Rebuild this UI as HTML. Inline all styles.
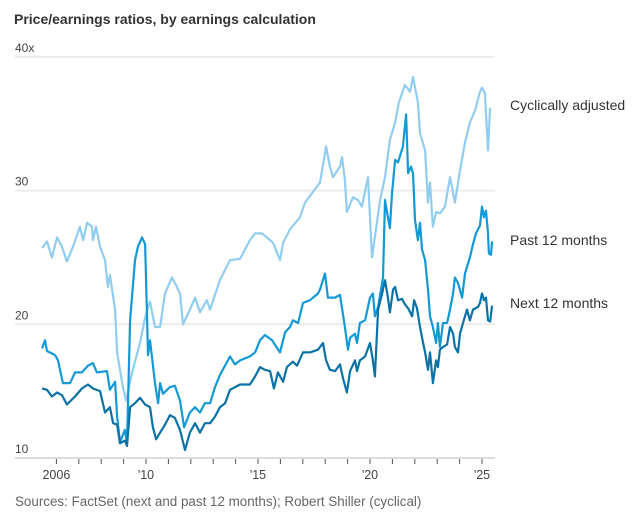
<!DOCTYPE html>
<html><head><meta charset="utf-8"><style>
body{margin:0;background:#fff;font-family:"Liberation Sans",sans-serif;}
svg text{font-family:"Liberation Sans",sans-serif;}
</style></head><body>
<svg id="chart" width="643" height="518">
<text x="14" y="24" font-size="14" font-weight="bold" fill="#333">Price/earnings ratios, by earnings calculation</text>
<g id="grid"></g><g id="xaxis"></g><g id="lines"></g>
<text x="15" y="506" font-size="13.4" fill="#666">Sources: FactSet (next and past 12 months); Robert Shiller (cyclical)</text>
</svg>
<script>
const yTicks=[10,20,30,40];
const xTicks=[2006,2007,2008,2009,2010,2011,2012,2013,2014,2015,2016,2017,2018,2019,2020,2021,2022,2023,2024,2025];
const xLabels={2006:"2006",2010:"'10",2015:"'15",2020:"'20",2025:"'25"};
const capeDates=[2005.36,2005.58,2005.80,2006.03,2006.25,2006.47,2006.74,2007.05,2007.19,2007.37,2007.59,2007.63,2007.77,2007.95,2008.17,2008.30,2008.39,2008.62,2008.71,2008.97,2009.11,2009.38,2009.73,2009.96,2010.18,2010.40,2010.63,2010.85,2011.16,2011.29,2011.52,2011.65,2011.96,2012.19,2012.41,2012.72,2012.86,2013.30,2013.75,2014.20,2014.64,2014.87,2015.18,2015.67,2015.98,2016.12,2016.43,2016.87,2017.10,2017.54,2017.77,2018.04,2018.21,2018.35,2018.66,2018.75,2018.88,2018.97,2019.24,2019.46,2019.64,2019.91,2020.09,2020.45,2020.67,2020.89,2021.12,2021.29,2021.56,2021.79,2021.92,2022.14,2022.23,2022.46,2022.59,2022.68,2022.81,2022.95,2023.12,2023.35,2023.57,2023.79,2024.02,2024.24,2024.46,2024.69,2024.91,2025.00,2025.13,2025.27,2025.36];
const capeValues=[25.7,26.2,25.0,26.5,25.8,24.7,25.8,27.3,26.3,27.6,27.3,26.3,27.3,25.8,24.8,22.8,23.7,21.1,17.9,15.3,14.3,16.4,18.6,20.5,21.7,19.8,19.8,22.3,23.5,23.1,22.3,20.0,21.1,22.0,20.9,21.8,21.1,23.3,24.8,24.9,26.3,26.8,26.8,26.1,24.8,26.1,27.1,28.0,29.1,30.1,30.6,33.3,31.8,31.0,31.8,32.5,30.8,28.4,29.5,29.3,28.8,31.0,25.0,29.3,31.0,33.8,35.1,36.6,37.9,37.4,38.5,36.6,34.3,33.0,29.1,30.6,27.3,28.4,28.3,28.8,31.0,29.1,31.5,33.6,35.1,36.0,37.4,37.7,37.3,33.0,36.2];
const pastDates=[2005.36,2005.49,2005.58,2005.94,2006.07,2006.29,2006.61,2006.83,2007.14,2007.41,2007.63,2007.81,2008.26,2008.39,2008.62,2008.71,2008.84,2009.06,2009.15,2009.29,2009.51,2009.64,2009.82,2009.96,2010.04,2010.09,2010.18,2010.40,2010.54,2010.63,2010.76,2011.07,2011.29,2011.52,2011.70,2011.96,2012.19,2012.41,2012.63,2012.86,2013.08,2013.30,2013.75,2013.97,2014.20,2014.64,2014.87,2015.09,2015.31,2015.63,2015.98,2016.21,2016.43,2016.56,2016.79,2017.01,2017.32,2017.68,2017.77,2017.99,2018.12,2018.44,2018.66,2018.88,2019.02,2019.11,2019.33,2019.42,2019.55,2019.78,2020.00,2020.13,2020.22,2020.36,2020.58,2020.67,2020.80,2020.89,2020.98,2021.12,2021.25,2021.47,2021.61,2021.70,2021.83,2021.92,2022.01,2022.14,2022.23,2022.32,2022.46,2022.59,2022.68,2022.81,2022.95,2023.03,2023.12,2023.26,2023.44,2023.57,2023.71,2023.79,2023.93,2024.11,2024.24,2024.46,2024.60,2024.73,2024.91,2025.00,2025.09,2025.18,2025.27,2025.31,2025.40,2025.45];
const pastValues=[18.2,18.8,18.0,17.7,17.3,15.6,15.6,16.4,16.4,16.9,17.1,16.4,16.5,15.1,15.7,13.1,11.2,12.1,11.1,20.3,24.8,25.8,26.5,26.0,21.0,17.7,18.8,15.6,14.1,15.6,14.8,15.3,15.4,14.3,12.3,13.4,13.8,13.4,14.1,14.1,15.3,16.2,17.6,17.0,17.3,17.6,17.9,18.8,19.2,18.8,17.9,19.4,19.8,20.3,20.1,21.6,21.8,22.3,22.6,23.8,22.0,22.0,22.2,19.8,18.1,19.0,19.3,18.6,20.1,20.3,22.0,22.3,20.6,21.3,23.5,29.3,28.0,27.2,29.8,32.3,32.1,33.3,35.7,31.3,31.8,31.3,27.8,26.3,27.6,25.6,24.8,22.6,20.6,19.8,18.6,20.1,18.3,20.1,20.1,21.1,22.3,23.5,23.1,22.0,23.8,25.0,26.0,26.8,27.4,28.8,28.0,28.5,26.8,25.3,25.2,26.2];
const nextDates=[2005.36,2005.58,2005.80,2006.03,2006.25,2006.47,2006.83,2007.14,2007.41,2007.63,2007.95,2008.17,2008.39,2008.53,2008.71,2008.84,2009.06,2009.15,2009.29,2009.51,2009.73,2009.96,2010.18,2010.31,2010.45,2010.63,2010.85,2011.07,2011.29,2011.52,2011.74,2011.96,2012.19,2012.41,2012.63,2012.86,2013.08,2013.30,2013.53,2013.75,2014.20,2014.64,2014.87,2015.09,2015.31,2015.54,2015.71,2015.89,2016.12,2016.29,2016.56,2016.74,2017.01,2017.32,2017.68,2017.77,2017.90,2018.04,2018.21,2018.44,2018.66,2018.79,2018.97,2019.11,2019.33,2019.42,2019.55,2019.78,2020.00,2020.13,2020.22,2020.36,2020.54,2020.67,2020.80,2020.89,2021.03,2021.12,2021.25,2021.43,2021.56,2021.70,2021.88,2021.97,2022.10,2022.23,2022.37,2022.46,2022.59,2022.68,2022.81,2022.95,2023.03,2023.12,2023.26,2023.44,2023.57,2023.71,2023.79,2023.93,2024.02,2024.15,2024.33,2024.46,2024.60,2024.82,2024.91,2025.00,2025.09,2025.18,2025.27,2025.36,2025.45];
const nextValues=[15.2,15.1,14.6,14.9,14.7,14.0,14.6,15.2,15.5,15.2,15.0,13.4,13.8,12.6,12.5,11.1,11.3,10.9,13.8,14.1,14.5,14.0,13.8,12.3,11.4,11.9,12.5,13.2,13.0,12.1,10.6,11.9,12.6,11.9,12.6,12.6,13.1,13.8,14.1,15.1,15.5,15.5,16.1,16.8,16.6,16.5,15.2,16.4,15.7,16.8,17.2,16.9,17.9,17.9,18.1,18.3,18.6,17.3,16.6,16.5,17.0,16.0,14.9,16.5,17.3,16.5,17.3,17.6,18.6,17.3,16.1,21.1,22.3,23.3,22.0,20.9,22.6,22.8,21.8,21.9,21.5,21.2,20.6,21.8,21.2,19.8,18.6,17.9,16.6,17.9,15.6,17.3,16.8,18.1,18.3,18.5,19.8,19.3,18.3,17.9,19.3,20.1,21.1,20.3,21.1,21.3,21.6,22.3,21.8,22.0,20.3,20.2,21.4];

const NS="http://www.w3.org/2000/svg";
function X(yr){return 146+(yr-2010)*22.4;}
function Y(v){return 458-(v-10)*13.37;}
function mk(tag,attrs,parent){const e=document.createElementNS(NS,tag);for(const k in attrs)e.setAttribute(k,attrs[k]);parent.appendChild(e);return e;}
const grid=document.getElementById('grid');
yTicks.forEach(t=>{
  const l=mk('line',{x1:15,x2:495,y1:Y(t),y2:Y(t),stroke:t===10?'#dcdcdc':'#ececec','stroke-width':2},grid);
  
  
  const tx=mk('text',{x:15,y:Y(t)-5,'font-size':12,fill:'#444'},grid);
  tx.textContent=t===40?'40x':String(t);
  
  
});
const xa=document.getElementById('xaxis');
xTicks.forEach(yr=>{
  const l=mk('line',{x1:X(yr),x2:X(yr),y1:459,y2:464,stroke:'#555','stroke-width':1},xa);
  
  
  if(xLabels[yr]){
    const tx=mk('text',{x:X(yr),y:479,'font-size':12.5,fill:'#444','text-anchor':'middle'},xa);
    tx.textContent=xLabels[yr];
    
    
  }
});
const lines=document.getElementById('lines');
function series(dates,vals,color,name,label,ly){
  const d=dates.map((t,i)=>(i?'L':'M')+X(t).toFixed(1)+','+Y(vals[i]).toFixed(1)).join('');
  const p=mk('path',{d:d,fill:'none',stroke:color,'stroke-width':2.2,'stroke-linejoin':'round'},lines);
  
  
  const tx=mk('text',{x:510,y:ly,'font-size':14,fill:'#333'},lines);
  tx.textContent=label;
  
  
}
series(capeDates,capeValues,'#92cdf0','cyclically-adjusted','Cyclically adjusted',110);
series(pastDates,pastValues,'#1399d6','past-12-months','Past 12 months',245);
series(nextDates,nextValues,'#0b72a6','next-12-months','Next 12 months',308);
</script>
</body></html>
